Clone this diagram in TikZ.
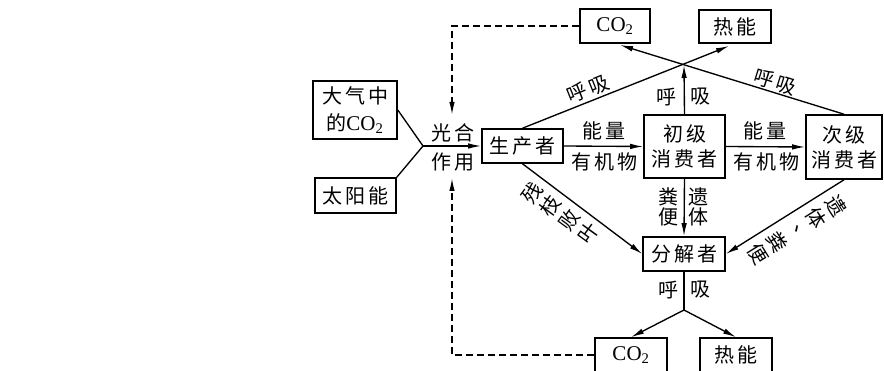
\documentclass[tikz,border=0pt]{standalone}
\usepackage{fontspec}
\setmainfont{Liberation Serif}
\newfontfamily\cjk{Noto Sans CJK SC}
\usetikzlibrary{arrows.meta}
\def\ls#1{\lslp#1\relax\unskip}
\def\lslp#1{\ifx\relax#1\else#1\hspace{3pt}\expandafter\lslp\fi}
\newcommand\cotwo{{\rmfamily\fontsize{21pt}{25pt}\selectfont CO\textsubscript{2}}}
\begin{document}
\begin{tikzpicture}[x=1pt,y=-1pt,
  box/.style={draw, line width=1.6pt, inner sep=0pt, align=center,
    font=\cjk\fontsize{20pt}{25pt}\selectfont},
  lab/.style={inner sep=0pt, align=center, font=\cjk\fontsize{20pt}{23pt}\selectfont},
  col/.style={inner sep=0pt, align=center, font=\cjk\fontsize{20pt}{20.5pt}\selectfont},
  conn/.style={line width=1.35pt, -{Latex[length=13pt,width=5.5pt]}},
  plainline/.style={line width=1.35pt},
  dashline/.style={line width=1.5pt, dash pattern=on 7pt off 4pt, -{Latex[length=13pt,width=5.5pt]}}
]
\useasboundingbox[fill=white] (0,0) rectangle (884,371);

% boxes
\node[box, minimum width=84pt, minimum height=58pt] (air) at (355,110) {\ls{大气中}\\[2.5pt]的\cotwo};
\node[box, minimum width=81pt, minimum height=35pt] (sun) at (355.5,195.5) {\ls{太阳能}};
\node[box, minimum width=81pt, minimum height=34pt] (prod) at (522.5,146) {\ls{生产者}};
\node[box, minimum width=81pt, minimum height=63pt] (c1) at (684.5,146.5) {\ls{初级}\\\ls{消费者}};
\node[box, minimum width=76pt, minimum height=64pt] (c2) at (844,147) {\ls{次级}\\\ls{消费者}};
\node[box, minimum width=70pt, minimum height=34pt] (co2t) at (615,26) {\cotwo};
\node[box, minimum width=72pt, minimum height=33pt] (heatt) at (735,26.5) {\ls{热能}};
\node[box, minimum width=82pt, minimum height=34pt] (dec) at (684,254) {\ls{分解者}};
\node[box, minimum width=72pt, minimum height=34pt] (co2b) at (631,355) {\cotwo};
\node[box, minimum width=72pt, minimum height=34pt] (heatb) at (736,355) {\ls{热能}};

% junctions and tips
\coordinate (J1) at (423,146);
\coordinate (J2) at (684,65);
\coordinate (J3) at (684,310);
\coordinate (heatTip) at (729,46);
\coordinate (co2Tip) at (620,45);
\coordinate (pfoot) at (452,178);
\coordinate (phead) at (452,115);

% photosynthesis
\draw[plainline] (air.east) -- (J1);
\draw[plainline] (sun.north east) -- (J1);
\draw[conn] (J1) -- (prod.west);
\node[lab] (l1) at (453,133) {\ls{光合}};
\node[lab] (l2) at (453,162) {\ls{作用}};

% energy flow
\draw[conn] (prod.east) -- (c1.west);
\draw[conn] (c1.east) -- (c2.west);
\node[lab] (l3) at (604,131) {\ls{能量}};
\node[lab] (l4) at (604,162) {\ls{有机物}};
\node[lab] (l5) at (765,131) {\ls{能量}};
\node[lab] (l6) at (766,162) {\ls{有机物}};

% respiration (top)
\draw[conn] (c1.north) -- (J2);
\draw[conn] (prod.north) -- (heatTip);
\draw[conn] (c2.north) -- (co2Tip);
\node[lab, rotate=21.7] (l7) at (588,89) {\ls{呼吸}};
\node[lab, rotate=-17.4] (l8) at (775,82) {\ls{呼吸}};
\node[lab] (l9) at (666,97) {呼};
\node[lab] (l10) at (700,97) {吸};

% to decomposers
\draw[conn] (c1.south) -- (dec.north);
\draw[conn] (prod.south) -- (dec.west);
\draw[conn] (c2.south) -- (dec.east);
\node[col] (l11) at (668,207) {粪\\便};
\node[col] (l12) at (698,207) {遗\\体};
\node[lab, rotate=54] (l13) at (560,213) {残\\枝\\败\\叶};
\node[lab, rotate=-58] (l14) at (797,230) {遗\\体\\\makebox[1em][l]{\kern0.28em\raisebox{0.33em}{、}}\\粪\\便};

% respiration (bottom)
\draw[plainline] (dec.south) -- (J3);
\draw[conn] (J3) -- (co2b.north);
\draw[conn] (J3) -- (heatb.north);
\node[lab] (l15) at (668,290) {呼};
\node[lab] (l16) at (700,290) {吸};

% dashed returns
\draw[dashline] (co2b.west) -| (pfoot);
\draw[dashline] (co2t.west) -| (phead);
\end{tikzpicture}
\end{document}
